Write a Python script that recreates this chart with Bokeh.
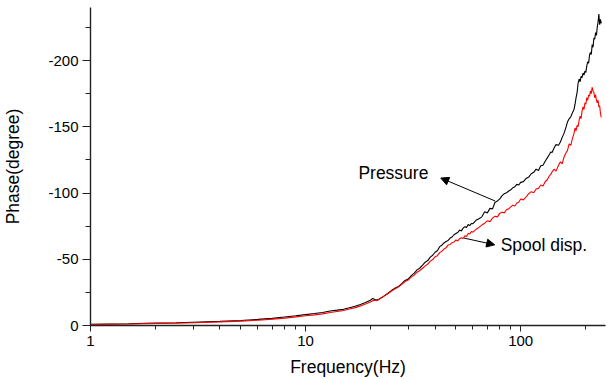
from bokeh.plotting import figure
from bokeh.models import (Range1d, FixedTicker, PrintfTickFormatter, Arrow,
                          NormalHead, Label)
from bokeh.embed import file_html
from bokeh.resources import INLINE

# ---- data ----
freq = [1, 1.5, 2, 2.5, 3, 4, 5, 6, 7, 8, 9, 10, 11, 12, 13, 14, 15, 16, 17, 18,
        19, 20, 20.5, 21, 21.5, 22, 23, 24, 25, 26, 27, 28, 29, 30, 31, 32, 33,
        34, 35, 36, 37, 38, 39, 40, 41, 42, 43, 44, 45, 46, 47, 48, 49, 50, 51,
        52, 53, 54, 55, 56, 57, 58, 59, 60, 62, 64, 66, 68, 70, 72, 74, 76, 78,
        80, 82, 84, 86, 88, 90, 92, 94, 96, 98, 100, 103, 106, 109, 112, 115,
        118, 121, 124, 127, 130, 133, 136, 138, 140, 143, 146, 150, 153, 156,
        159, 162, 165, 168, 171, 174, 177, 179, 181, 183, 185, 187, 189, 191,
        193, 195, 197, 199, 201, 203, 205, 207, 209, 211, 213, 215, 217, 219,
        221, 223, 225, 227, 229, 231, 233, 235, 237]

pressure = [-1.0, -1.3, -1.8, -2.1, -2.5, -3.1, -3.8, -4.6, -5.4, -6.4, -7.3,
            -8.2, -9.0, -9.8, -11.0, -11.6, -12.2, -13.4, -14.5, -15.8, -17.3,
            -19.0, -20.4, -19.6, -19.2, -20.0, -22.0, -24.0, -26.3, -28.2,
            -29.4, -31.6, -34.0, -35.0, -37.6, -39.5, -42.0, -43.4, -45.5,
            -47.8, -49.0, -51.6, -53.0, -55.3, -56.4, -59.5, -60.6, -62.3,
            -63.4, -64.2, -66.0, -66.8, -68.5, -69.4, -70.2, -72.0, -71.4,
            -73.5, -74.6, -73.9, -76.2, -75.4, -77.0, -76.8, -79.4, -80.6,
            -82.0, -85.9, -85.0, -88.4, -88.0, -93.0, -94.0, -95.6, -98.0,
            -99.5, -100.2, -101.5, -102.4, -104.0, -104.8, -106.5, -106.0,
            -108.0, -108.6, -111.0, -112.0, -114.5, -115.6, -118.0, -117.0,
            -120.5, -121.0, -124.0, -126.5, -129.0, -131.0, -130.5, -134.0,
            -136.5, -136.0, -138.5, -142.0, -145.0, -149.0, -153.5, -156.0,
            -157.5, -160.5, -163.0, -167.0, -172.0, -176.0, -183.0, -186.0,
            -184.0, -188.0, -187.0, -190.5, -189.0, -192.0, -191.0, -196.0,
            -199.0, -198.0, -204.0, -206.0, -204.5, -212.0, -210.0, -217.0,
            -216.0, -221.0, -219.0, -225.0, -229.0, -235.0, -227.0, -231.0,
            -228.0]

spool = [-0.8, -1.1, -1.5, -1.8, -2.1, -2.7, -3.3, -4.0, -4.8, -5.6, -6.5,
         -7.3, -8.0, -8.8, -9.8, -10.6, -11.3, -12.4, -13.5, -14.8, -16.3,
         -17.8, -18.6, -19.0, -18.8, -19.8, -21.8, -23.8, -25.9, -27.6, -29.0,
         -31.0, -33.2, -34.4, -36.5, -38.0, -40.2, -41.5, -43.2, -45.0, -46.4,
         -48.6, -49.8, -51.8, -52.6, -55.0, -56.0, -57.8, -58.6, -60.8, -61.2,
         -62.5, -63.0, -64.6, -63.8, -65.5, -66.2, -65.6, -67.8, -67.2, -69.5,
         -69.0, -71.0, -70.4, -72.6, -74.0, -75.8, -77.2, -79.0, -78.4, -81.0,
         -82.5, -82.0, -84.8, -85.5, -85.0, -87.6, -88.0, -89.5, -90.8, -90.2,
         -92.5, -93.0, -95.5, -94.8, -97.0, -99.5, -101.0, -100.2, -103.0,
         -103.5, -106.0, -105.2, -108.5, -110.0, -113.0, -114.0, -116.0,
         -118.0, -116.5, -121.0, -123.5, -122.0, -127.0, -130.0, -132.0,
         -137.0, -136.0, -141.0, -145.0, -149.0, -147.0, -151.0, -150.0,
         -155.0, -158.0, -156.0, -162.0, -165.0, -163.0, -168.0, -167.0,
         -172.0, -170.0, -174.0, -173.0, -177.0, -175.0, -180.0, -177.0,
         -176.0, -172.0, -174.0, -170.0, -168.0, -170.0, -165.0, -166.0,
         -160.0, -157.0]

x_major = [1, 10, 100]
x_minor = [2, 3, 4, 5, 6, 7, 8, 9, 20, 30, 40, 50, 60, 70, 80, 90, 200]
y_major = [0, -50, -100, -150, -200]
y_minor = [-25, -75, -125, -175, -225]

FONT = "Liberation Sans"

p = figure(width=607, height=379, x_axis_type="log",
           x_range=Range1d(1, 248), y_range=Range1d(0, -240),
           output_backend="svg", toolbar_location=None,
           min_border_left=90, min_border_right=2, min_border_top=7,
           min_border_bottom=52)
p.outline_line_color = None
p.xgrid.visible = False
p.ygrid.visible = False
p.background_fill_color = "white"
p.border_fill_color = "white"

p.line(freq, pressure, line_color="black", line_width=1.1)
p.line(freq, spool, line_color="red", line_width=1.1)

xa = p.xaxis[0]
xa.ticker = FixedTicker(ticks=x_major, minor_ticks=x_minor)
xa.formatter = PrintfTickFormatter(format="%d")
xa.axis_label = "Frequency(Hz)"
ya = p.yaxis[0]
ya.ticker = FixedTicker(ticks=y_major, minor_ticks=y_minor)
ya.formatter = PrintfTickFormatter(format="%d")
ya.axis_label = "Phase(degree)"

for ax in (xa, ya):
    ax.axis_line_color = "#222222"
    ax.axis_line_width = 1.4
    ax.major_tick_line_color = "#222222"
    ax.minor_tick_line_color = "#222222"
    ax.major_tick_in = 0
    ax.minor_tick_in = 0
    ax.major_label_text_font = FONT
    ax.major_label_text_font_size = "15px"
    ax.major_label_text_color = "black"
    ax.axis_label_text_font = FONT
    ax.axis_label_text_font_size = "17.5px"
    ax.axis_label_text_font_style = "normal"
    ax.axis_label_text_color = "black"

xa.major_tick_out = 6
xa.minor_tick_out = 4
xa.major_label_standoff = 4
xa.axis_label_standoff = 8
ya.major_tick_out = 8
ya.minor_tick_out = 5
ya.major_label_standoff = 4
ya.axis_label_standoff = 22

# annotations
p.add_layout(Arrow(end=NormalHead(size=8, fill_color="black", line_color="black"),
                   x_start=76, y_start=-94, x_end=42.5, y_end=-111.3,
                   line_color="black", line_width=1))
p.add_layout(Arrow(end=NormalHead(size=8, fill_color="black", line_color="black"),
                   x_start=54.5, y_start=-66, x_end=75.7, y_end=-60.9,
                   line_color="black", line_width=1))
p.add_layout(Label(x=17.6, y=-115, text="Pressure", text_font=FONT,
                   text_font_size="17.5px", text_baseline="middle",
                   text_align="left", text_color="black"))
p.add_layout(Label(x=80.7, y=-61, text="Spool disp.", text_font=FONT,
                   text_font_size="17.5px", text_baseline="middle",
                   text_align="left", text_color="black"))

open("out.html", "w").write(file_html(p, INLINE))
